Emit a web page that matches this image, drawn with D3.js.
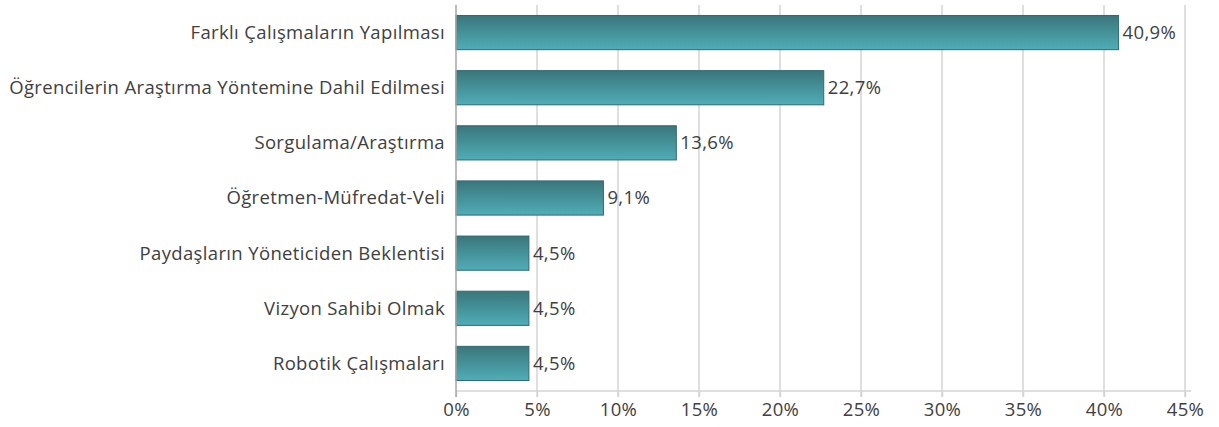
<!DOCTYPE html>
<html>
<head>
<meta charset="utf-8">
<script src="https://cdn.jsdelivr.net/npm/d3@7"></script>
<style>
    body { margin: 0; background: #fff; }
    text { font-family: "Open Sans", "Noto Sans", sans-serif; fill: #404040; }
</style>
</head>
<body>
<script>
var categories = [
    'Farklı Çalışmaların Yapılması',
    'Öğrencilerin Araştırma Yöntemine Dahil Edilmesi',
    'Sorgulama/Araştırma',
    'Öğretmen-Müfredat-Veli',
    'Paydaşların Yöneticiden Beklentisi',
    'Vizyon Sahibi Olmak',
    'Robotik Çalışmaları'
];
var values = [40.9, 22.7, 13.6, 9.1, 4.5, 4.5, 4.5];
var tickValues = [0, 5, 10, 15, 20, 25, 30, 35, 40, 45];

var width = 1219, height = 427,
    margin = { top: 5, right: 34, bottom: 36, left: 456 },
    fontSize = '18.5px',
    spacing = '0.35px';

var svg = d3.select('body').append('svg')
    .attr('width', width)
    .attr('height', height);

var defs = svg.append('defs');
var grad = defs.append('linearGradient')
    .attr('id', 'barGrad')
    .attr('x1', 0).attr('y1', 0).attr('x2', 0).attr('y2', 1);
grad.append('stop').attr('offset', '0%').attr('stop-color', '#3a767b');
grad.append('stop').attr('offset', '100%').attr('stop-color', '#50adb7');

var x = d3.scaleLinear()
    .domain([0, 45])
    .range([margin.left, width - margin.right]);

var y = d3.scaleBand()
    .domain(categories)
    .range([margin.top, height - margin.bottom])
    .paddingInner(0.38)
    .paddingOuter(0.19);

// vertical grid lines
svg.append('g')
    .selectAll('line')
    .data(tickValues.slice(1))
    .enter().append('line')
    .attr('x1', d => x(d)).attr('x2', d => x(d))
    .attr('y1', margin.top).attr('y2', height - margin.bottom + 6)
    .attr('stroke', '#d4d4d4')
    .attr('stroke-width', 1.5);

// bottom axis
var xAxis = d3.axisBottom(x)
    .tickValues(tickValues)
    .tickSize(6)
    .tickPadding(6)
    .tickFormat(d => d + '%');
var gx = svg.append('g')
    .attr('transform', 'translate(0,' + (height - margin.bottom) + ')')
    .call(xAxis);
gx.select('.domain').attr('stroke', '#d4d4d4').attr('stroke-width', 1.5)
    .attr('d', 'M' + x(0) + ',0H' + (x(45) + 6));
gx.selectAll('.tick line').attr('stroke', '#d4d4d4').attr('stroke-width', 1.5);
gx.selectAll('.tick text')
    .style('font-size', fontSize)
    .style('letter-spacing', spacing)
    .attr('fill', '#404040');

// bars
svg.append('g')
    .selectAll('rect')
    .data(values)
    .enter().append('rect')
    .attr('x', x(0))
    .attr('y', (d, i) => y(categories[i]))
    .attr('width', d => x(d) - x(0))
    .attr('height', y.bandwidth())
    .attr('fill', 'url(#barGrad)')
    .attr('stroke', '#2f6a70')
    .attr('stroke-width', 1);

// left axis line
svg.append('line')
    .attr('x1', x(0)).attr('x2', x(0))
    .attr('y1', margin.top).attr('y2', height - margin.bottom + 6)
    .attr('stroke', '#a6a6a6')
    .attr('stroke-width', 1.5);

// category labels
svg.append('g')
    .selectAll('text')
    .data(categories)
    .enter().append('text')
    .attr('x', x(0) - 11)
    .attr('y', d => y(d) + y.bandwidth() / 2)
    .attr('dy', '0.35em')
    .attr('text-anchor', 'end')
    .style('font-size', fontSize)
    .style('letter-spacing', spacing)
    .text(d => d);

// value labels
svg.append('g')
    .selectAll('text')
    .data(values)
    .enter().append('text')
    .attr('x', d => x(d) + 4)
    .attr('y', (d, i) => y(categories[i]) + y.bandwidth() / 2)
    .attr('dy', '0.35em')
    .style('font-size', fontSize)
    .style('letter-spacing', spacing)
    .text(d => String(d).replace('.', ',') + '%');
</script>
</body>
</html>
